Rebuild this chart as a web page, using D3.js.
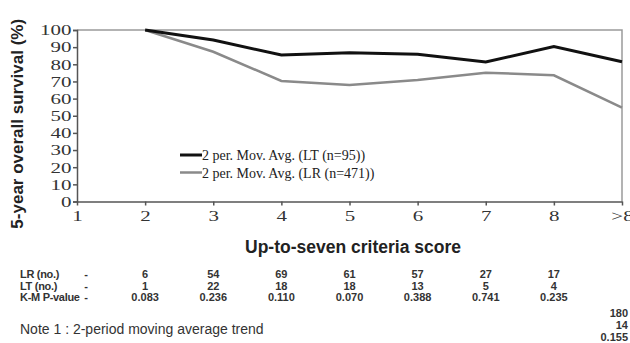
<!DOCTYPE html>
<html>
<head>
<meta charset="utf-8">
<script src="https://cdn.jsdelivr.net/npm/d3@7"></script>
<style>
  body { margin: 0; background: #fff; }
  svg { display: block; }
</style>
</head>
<body>
<div id="chart"></div>
<script>
// Categories on the x axis
const scores = ["1", "2", "3", "4", "5", "6", "7", "8", ">8"];

// 2-period moving average, starting at score 2
const ltSeries = [
  { score: "2", value: 100 },
  { score: "3", value: 94.2 },
  { score: "4", value: 85.4 },
  { score: "5", value: 86.8 },
  { score: "6", value: 85.8 },
  { score: "7", value: 81.3 },
  { score: "8", value: 90.3 },
  { score: ">8", value: 81.5 },
];
const lrSeries = [
  { score: "2", value: 100 },
  { score: "3", value: 87.3 },
  { score: "4", value: 70.3 },
  { score: "5", value: 67.9 },
  { score: "6", value: 70.8 },
  { score: "7", value: 75.1 },
  { score: "8", value: 73.6 },
  { score: ">8", value: 54.7 },
];

// Table under the chart
const tableScores = ["2", "3", "4", "5", "6", "7", "8"];
const lrCounts = ["6", "54", "69", "61", "57", "27", "17"];
const ltCounts = ["1", "22", "18", "18", "13", "5", "4"];
const pValues = ["0.083", "0.236", "0.110", "0.070", "0.388", "0.741", "0.235"];
const lastColumn = ["180", "14", "0.155"];

const yTicks = d3.range(0, 101, 10);

const WIDTH = 630;
const HEIGHT = 343;
const plot = { left: 77, right: 622, top: 30, bottom: 201.5 };

// the tick numbers in the source look wide, so stretch them sideways
const STRETCH = 1.4;

const svg = d3.select("#chart").append("svg")
  .attr("width", WIDTH)
  .attr("height", HEIGHT);

const x = d3.scalePoint().domain(scores).range([plot.left, plot.right]);
const y = d3.scaleLinear().domain([0, 100]).range([plot.bottom, plot.top]);

const serif = "'Liberation Serif', 'Times New Roman', serif";
const sans = "'Liberation Sans', Arial, sans-serif";

// Gray frame on top and right
svg.append("path")
  .attr("d", `M${plot.left},${plot.top}H${plot.right}V${plot.bottom}`)
  .attr("fill", "none")
  .attr("stroke", "#9a9a9a")
  .attr("stroke-width", 1.5);

// Y axis
const yAxis = svg.append("g")
  .attr("transform", `translate(${plot.left},0)`)
  .call(d3.axisLeft(y).tickValues(yTicks).tickSize(4).tickPadding(3));
yAxis.select(".domain").attr("stroke", "#555").attr("stroke-width", 1.5);
yAxis.selectAll(".tick line").attr("stroke", "#555").attr("stroke-width", 1.5);
yAxis.selectAll("text")
  .attr("font-family", serif)
  .attr("font-size", 15)
  .attr("fill", "#333")
  .attr("x", -5.5 / STRETCH)
  .attr("transform", `scale(${STRETCH},1)`);

// X axis
const xAxis = svg.append("g")
  .attr("transform", `translate(0,${plot.bottom})`)
  .call(d3.axisBottom(x).tickSize(4).tickPadding(5).tickSizeOuter(0));
xAxis.select(".domain").attr("stroke", "#555").attr("stroke-width", 1.5);
xAxis.selectAll(".tick line").attr("stroke", "#555").attr("stroke-width", 1.5);
xAxis.selectAll("text")
  .attr("font-family", serif)
  .attr("font-size", 15)
  .attr("fill", "#333")
  .attr("transform", `scale(${STRETCH},1)`);

// Lines
const line = d3.line()
  .x((d) => x(d.score))
  .y((d) => y(d.value));

svg.append("path")
  .datum(lrSeries)
  .attr("d", line)
  .attr("fill", "none")
  .attr("stroke", "#8a8a8a")
  .attr("stroke-width", 2.5);

svg.append("path")
  .datum(ltSeries)
  .attr("d", line)
  .attr("fill", "none")
  .attr("stroke", "#111")
  .attr("stroke-width", 3);

// Legend
const legendItems = [
  { label: "2 per. Mov. Avg. (LT (n=95))", color: "#111", width: 3, y: 155 },
  { label: "2 per. Mov. Avg. (LR (n=471))", color: "#8a8a8a", width: 2.5, y: 172.5 },
];
const legend = svg.selectAll(".legendItem")
  .data(legendItems)
  .enter()
  .append("g")
  .attr("class", "legendItem");
legend.append("line")
  .attr("x1", 180)
  .attr("x2", 202)
  .attr("y1", (d) => d.y)
  .attr("y2", (d) => d.y)
  .attr("stroke", (d) => d.color)
  .attr("stroke-width", (d) => d.width);
legend.append("text")
  .attr("x", 202)
  .attr("y", (d) => d.y + 5)
  .attr("font-family", serif)
  .attr("font-size", 14)
  .attr("fill", "#222")
  .text((d) => d.label);

// Axis titles
svg.append("text")
  .attr("transform", `translate(23,${(plot.top + plot.bottom) / 2 + 8}) rotate(-90)`)
  .attr("text-anchor", "middle")
  .attr("font-family", sans)
  .attr("font-weight", "bold")
  .attr("font-size", 17)
  .attr("fill", "#222")
  .text("5-year overall survival (%)");

svg.append("text")
  .attr("x", 353)
  .attr("y", 253)
  .attr("text-anchor", "middle")
  .attr("font-family", sans)
  .attr("font-weight", "bold")
  .attr("font-size", 17.5)
  .attr("fill", "#222")
  .text("Up-to-seven criteria score");

// Table
const rows = [
  { label: "LR (no.)", values: lrCounts, y: 278 },
  { label: "LT (no.)", values: ltCounts, y: 289.5 },
  { label: "K-M P-value", values: pValues, y: 301 },
];
const tableFont = { family: sans, size: 11, color: "#333" };

rows.forEach((row) => {
  svg.append("text")
    .attr("x", 20)
    .attr("y", row.y)
    .attr("font-family", tableFont.family)
    .attr("font-weight", "bold")
    .attr("font-size", tableFont.size)
    .attr("fill", tableFont.color)
    .attr("letter-spacing", -0.3)
    .text(row.label);
  svg.append("text")
    .attr("x", 86)
    .attr("y", row.y)
    .attr("text-anchor", "middle")
    .attr("font-family", tableFont.family)
    .attr("font-weight", "bold")
    .attr("font-size", tableFont.size)
    .attr("fill", tableFont.color)
    .text("-");
  svg.selectAll(null)
    .data(row.values)
    .enter()
    .append("text")
    .attr("x", (d, i) => x(tableScores[i]))
    .attr("y", row.y)
    .attr("text-anchor", "middle")
    .attr("font-family", tableFont.family)
    .attr("font-weight", "bold")
    .attr("font-size", tableFont.size)
    .attr("fill", tableFont.color)
    .text((d) => d);
});

// Last (>8) column, placed lower and right-aligned
svg.selectAll(null)
  .data(lastColumn)
  .enter()
  .append("text")
  .attr("x", 628)
  .attr("y", (d, i) => 317 + i * 12)
  .attr("text-anchor", "end")
  .attr("font-family", tableFont.family)
  .attr("font-weight", "bold")
  .attr("font-size", tableFont.size)
  .attr("fill", tableFont.color)
  .text((d) => d);

// Note
svg.append("text")
  .attr("x", 20)
  .attr("y", 334)
  .attr("font-family", sans)
  .attr("font-size", 14)
  .attr("fill", "#333")
  .text("Note 1 : 2-period moving average trend");
</script>
</body>
</html>
